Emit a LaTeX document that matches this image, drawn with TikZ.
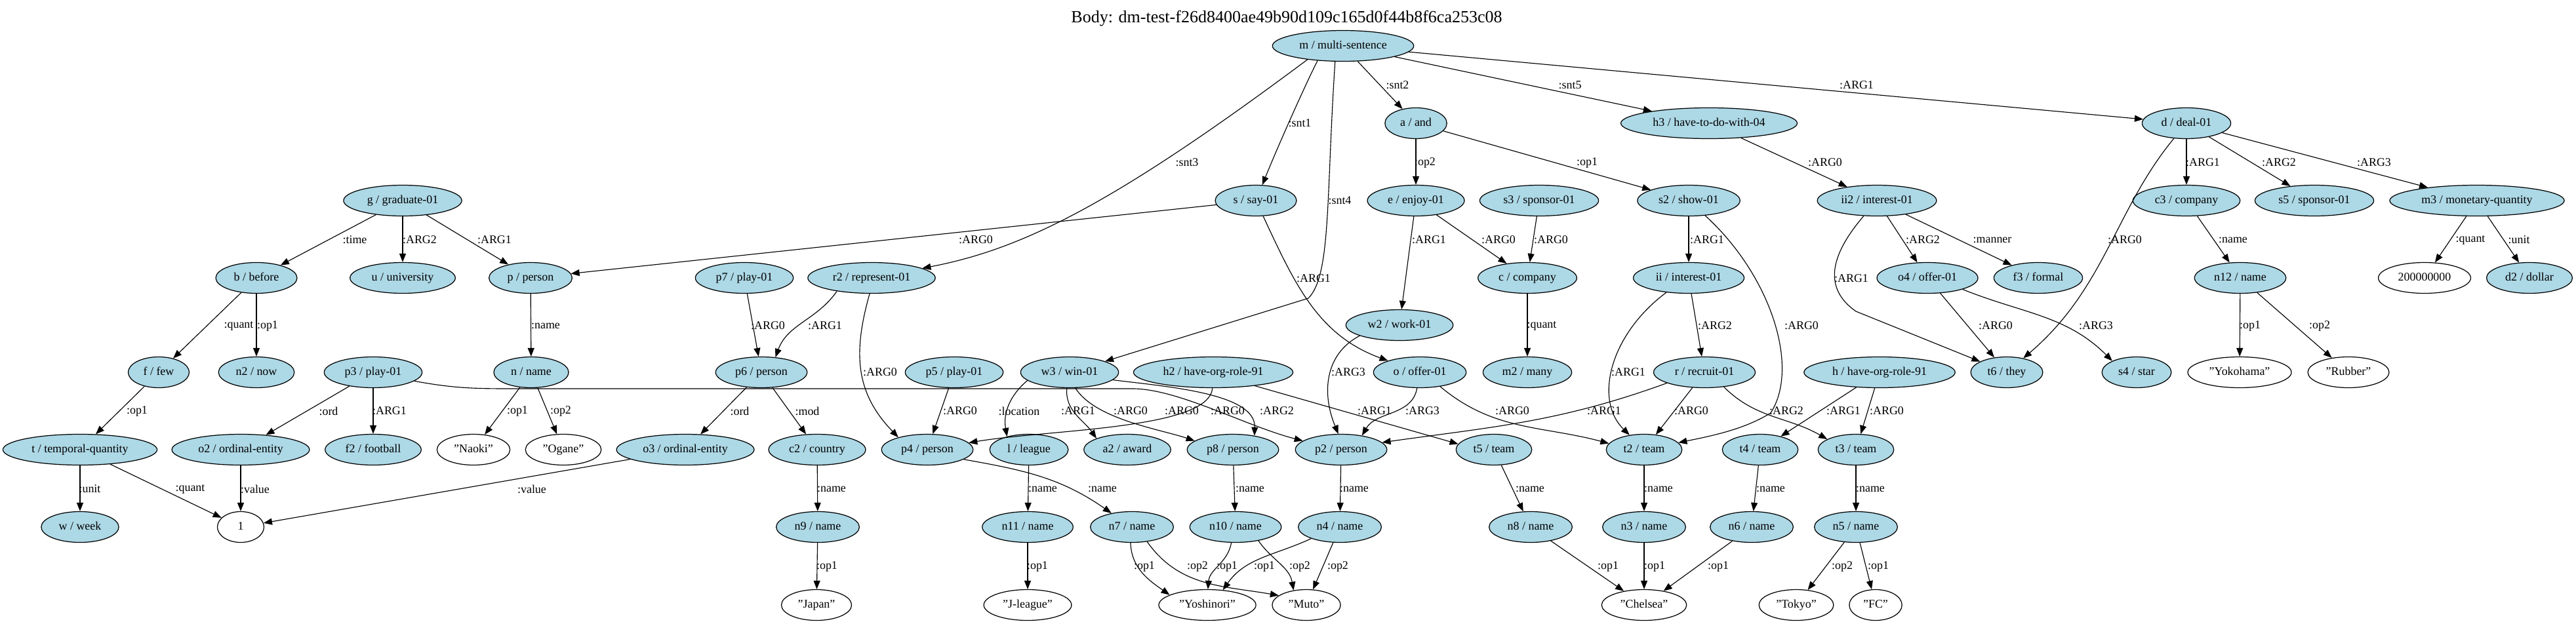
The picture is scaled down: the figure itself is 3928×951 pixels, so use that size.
\documentclass[tikz,border=0pt]{standalone}
\usepackage{fontspec}
\setmainfont{Liberation Serif}
\usetikzlibrary{shapes.geometric,arrows.meta}
\definecolor{lb}{HTML}{ADD8E6}
\newcommand\amrf{\fontsize{10.2}{12}\selectfont}
\newcommand\titlef{\fontsize{14.8}{17}\selectfont}
\begin{document}
\begin{tikzpicture}[x=0.02cm,y=-0.02cm,
  amr/.style={ellipse,draw,line width=0.7pt,fill=lb,minimum width=1.42cm,minimum height=0.94cm,
    inner xsep=5.4pt,inner ysep=1pt,font=\amrf,text height=7pt,text depth=2pt},
  lit/.style={amr,fill=white},
  edge/.style={-{Triangle[length=0.26cm,width=0.2cm]},line width=0.65pt},
  lbl/.style={font=\amrf,inner sep=0pt}]
\useasboundingbox (0,0) rectangle (3928,951);
\node[font=\titlef] (title) at (1962,28) {Body: dm-test-f26d8400ae49b90d109c165d0f44b8f6ca253c08};
% nodes
\node[amr] (m) at (2048,70) {m / multi-sentence};
\node[amr] (a) at (2159,188) {a / and};
\node[amr] (h3) at (2606,188) {h3 / have-to-do-with-04};
\node[amr] (d) at (3334,188) {d / deal-01};
\node[amr] (g) at (614,306) {g / graduate-01};
\node[amr] (s) at (1915,306) {s / say-01};
\node[amr] (e) at (2159,306) {e / enjoy-01};
\node[amr] (s3) at (2347,306) {s3 / sponsor-01};
\node[amr] (s2) at (2575,306) {s2 / show-01};
\node[amr] (ii2) at (2862,306) {ii2 / interest-01};
\node[amr] (c3) at (3334,306) {c3 / company};
\node[amr] (s5) at (3529,306) {s5 / sponsor-01};
\node[amr] (m3) at (3777,306) {m3 / monetary-quantity};
\node[amr] (b) at (391,424) {b / before};
\node[amr] (u) at (614,424) {u / university};
\node[amr] (p) at (809,424) {p / person};
\node[amr] (p7) at (1135,424) {p7 / play-01};
\node[amr] (r2) at (1329,424) {r2 / represent-01};
\node[amr] (c) at (2329,424) {c / company};
\node[amr] (ii) at (2575,424) {ii / interest-01};
\node[amr] (o4) at (2939,424) {o4 / offer-01};
\node[amr] (f3) at (3108,424) {f3 / formal};
\node[amr] (n12) at (3416,424) {n12 / name};
\node[lit] (q200) at (3697,424) {200000000};
\node[amr] (d2) at (3857,424) {d2 / dollar};
\node[amr] (w2) at (2134,496) {w2 / work-01};
\node[amr] (f) at (242,568) {f / few};
\node[amr] (n2) at (391,568) {n2 / now};
\node[amr] (p3) at (569,568) {p3 / play-01};
\node[amr] (n) at (810,568) {n / name};
\node[amr] (p6) at (1161,568) {p6 / person};
\node[amr] (p5) at (1455,568) {p5 / play-01};
\node[amr] (w3) at (1631,568) {w3 / win-01};
\node[amr] (h2) at (1850,568) {h2 / have-org-role-91};
\node[amr] (o) at (2165,568) {o / offer-01};
\node[amr] (m2) at (2329,568) {m2 / many};
\node[amr] (r) at (2599,568) {r / recruit-01};
\node[amr] (h) at (2866,568) {h / have-org-role-91};
\node[amr] (t6) at (3060,568) {t6 / they};
\node[amr] (s4) at (3258,568) {s4 / star};
\node[lit] (yok) at (3415,568) {"Yokohama"};
\node[lit] (rub) at (3581,568) {"Rubber"};
\node[amr] (t) at (122,686) {t / temporal-quantity};
\node[amr] (o2) at (367,686) {o2 / ordinal-entity};
\node[amr] (f2) at (569,686) {f2 / football};
\node[lit] (naoki) at (722,686) {"Naoki"};
\node[lit] (ogane) at (859,686) {"Ogane"};
\node[amr] (o3) at (1045,686) {o3 / ordinal-entity};
\node[amr] (c2) at (1246,686) {c2 / country};
\node[amr] (p4) at (1414,686) {p4 / person};
\node[amr] (l) at (1569,686) {l / league};
\node[amr] (a2) at (1719,686) {a2 / award};
\node[amr] (p8) at (1880,686) {p8 / person};
\node[amr] (p2) at (2045,686) {p2 / person};
\node[amr] (t5) at (2278,686) {t5 / team};
\node[amr] (t2) at (2507,686) {t2 / team};
\node[amr] (t4) at (2684,686) {t4 / team};
\node[amr] (t3) at (2830,686) {t3 / team};
\node[amr] (w) at (122,804) {w / week};
\node[lit] (one) at (367,804) {1};
\node[amr] (n9) at (1247,804) {n9 / name};
\node[amr] (n11) at (1567,804) {n11 / name};
\node[amr] (n7) at (1726,804) {n7 / name};
\node[amr] (n10) at (1884,804) {n10 / name};
\node[amr] (n4) at (2043,804) {n4 / name};
\node[amr] (n8) at (2334,804) {n8 / name};
\node[amr] (n3) at (2507,804) {n3 / name};
\node[amr] (n6) at (2671,804) {n6 / name};
\node[amr] (n5) at (2830,804) {n5 / name};
\node[lit] (japan) at (1245,923) {"Japan"};
\node[lit] (jl) at (1567,923) {"J-league"};
\node[lit] (yosh) at (1841,923) {"Yoshinori"};
\node[lit] (muto) at (1992,923) {"Muto"};
\node[lit] (chel) at (2507,923) {"Chelsea"};
\node[lit] (tokyo) at (2739,923) {"Tokyo"};
\node[lit] (fc) at (2860,923) {"FC"};
% edges
\draw[edge] (m.-150) .. controls (1990,130) and (1950,220) .. (s) node[lbl] at (1982,188) {:snt1};
\draw[edge] (m.-159) .. controls (1700,310) and (1560,380) .. (r2) node[lbl] at (1810,248) {:snt3};
\draw[edge] (m.-117) .. controls (2022,300) and (2030,420) .. (1995,455) -- (w3) node[lbl] at (2043,306) {:snt4};
\draw[edge] (m) -- (a) node[lbl] at (2131,130) {:snt2};
\draw[edge] (m) -- (h3) node[lbl] at (2394,130) {:snt5};
\draw[edge] (m) -- (d) node[lbl] at (2831,130) {:ARG1};
\draw[edge] (a) -- (e) node[lbl] at (2173,248) {:op2};
\draw[edge] (a) -- (s2) node[lbl] at (2420,248) {:op1};
\draw[edge] (h3) -- (ii2) node[lbl] at (2783,248) {:ARG0};
\draw[edge] (d) -- (c3) node[lbl] at (3359,248) {:ARG1};
\draw[edge] (d) -- (s5) node[lbl] at (3475,248) {:ARG2};
\draw[edge] (d) -- (m3) node[lbl] at (3620,248) {:ARG3};
\draw[edge] (d) .. controls (3225,320) and (3210,440) .. (t6) node[lbl] at (3240,366) {:ARG0};
\draw[edge] (g) -- (b) node[lbl] at (541,366) {:time};
\draw[edge] (g) -- (u) node[lbl] at (640,366) {:ARG2};
\draw[edge] (g) -- (p) node[lbl] at (754,366) {:ARG1};
\draw[edge] (s) -- (p) node[lbl] at (1488,366) {:ARG0};
\draw[edge] (s) to[out=-65,in=160] (o) node[lbl] at (2003,425) {:ARG1};
\draw[edge] (e) -- (w2) node[lbl] at (2179,366) {:ARG1};
\draw[edge] (e) -- (c) node[lbl] at (2285,366) {:ARG0};
\draw[edge] (s3) -- (c) node[lbl] at (2365,366) {:ARG0};
\draw[edge] (s2) -- (ii) node[lbl] at (2603,366) {:ARG1};
\draw[edge] (s2) .. controls (2700,420) and (2745,560) .. (2700,630) .. controls (2660,655) and (2610,665) .. (t2) node[lbl] at (2747,497) {:ARG0};
\draw[edge] (ii2) .. controls (2790,390) and (2780,440) .. (2830,475) -- (t6) node[lbl] at (2823,425) {:ARG1};
\draw[edge] (ii2) -- (o4) node[lbl] at (2932,366) {:ARG2};
\draw[edge] (ii2) -- (f3) node[lbl] at (3038,366) {:manner};
\draw[edge] (c3) -- (n12) node[lbl] at (3405,366) {:name};
\draw[edge] (m3) -- (q200) node[lbl] at (3767,366) {:quant};
\draw[edge] (m3) -- (d2) node[lbl] at (3841,366) {:unit};
\draw[edge] (b) -- (f) node[lbl] at (364,497) {:quant};
\draw[edge] (b) -- (n2) node[lbl] at (408,497) {:op1};
\draw[edge] (p) -- (n) node[lbl] at (832,497) {:name};
\draw[edge] (p7) -- (p6) node[lbl] at (1171,497) {:ARG0};
\draw[edge] (r2.-159) to[out=-125,in=70] (p6.47) node[lbl] at (1258,497) {:ARG1};
\draw[edge] (r2.-97) .. controls (1300,540) and (1305,600) .. (p4.157) node[lbl] at (1342,568) {:ARG0};
\draw[edge] (p6) -- (o3) node[lbl] at (1128,627) {:ord};
\draw[edge] (p6) -- (c2) node[lbl] at (1231,627) {:mod};
\draw[edge] (p5) -- (p4) node[lbl] at (1464,627) {:ARG0};
\draw[edge] (p3) -- (o2) node[lbl] at (501,627) {:ord};
\draw[edge] (p3) -- (f2) node[lbl] at (594,627) {:ARG1};
\draw[edge] (f) -- (t) node[lbl] at (209,627) {:op1};
\draw[edge] (n) -- (naoki) node[lbl] at (789,627) {:op1};
\draw[edge] (n) -- (ogane) node[lbl] at (855,627) {:op2};
\draw[edge] (t) -- (w) node[lbl] at (137,746) {:unit};
\draw[edge] (t) -- (one) node[lbl] at (290,746) {:quant};
\draw[edge] (o2) -- (one) node[lbl] at (389,746) {:value};
\draw[edge] (o3) -- (one) node[lbl] at (811,746) {:value};
\draw[edge] (c2) -- (n9) node[lbl] at (1268,746) {:name};
\draw[edge] (n9) -- (japan) node[lbl] at (1261,864) {:op1};
\draw[edge] (l) -- (n11) node[lbl] at (1590,746) {:name};
\draw[edge] (n11) -- (jl) node[lbl] at (1582,864) {:op1};
\draw[edge] (p4.-15) to[out=-10,in=145] (n7.146) node[lbl] at (1681,746) {:name};
\draw[edge] (p8) -- (n10) node[lbl] at (1906,746) {:name};
\draw[edge] (p2) -- (n4) node[lbl] at (2065,746) {:name};
\draw[edge] (n7.-95) to[out=-88,in=145] (yosh.165) node[lbl] at (1745,864) {:op1};
\draw[edge] (n7.-44) to[out=-55,in=170] (muto.161) node[lbl] at (1826,864) {:op2};
\draw[edge] (n10.-105) to[out=-100,in=85] (yosh.88) node[lbl] at (1871,864) {:op1};
\draw[edge] (n4.-158) to[out=-155,in=55] (yosh.44) node[lbl] at (1928,864) {:op1};
\draw[edge] (n10.-31) to[out=-55,in=100] (muto.131) node[lbl] at (1982,864) {:op2};
\draw[edge] (n4) -- (muto) node[lbl] at (2040,864) {:op2};
\draw[edge] (t5) -- (n8) node[lbl] at (2333,746) {:name};
\draw[edge] (t2) -- (n3) node[lbl] at (2529,746) {:name};
\draw[edge] (t4) -- (n6) node[lbl] at (2700,746) {:name};
\draw[edge] (t3) -- (n5) node[lbl] at (2852,746) {:name};
\draw[edge] (n8) -- (chel) node[lbl] at (2452,864) {:op1};
\draw[edge] (n3) -- (chel) node[lbl] at (2523,864) {:op1};
\draw[edge] (n6) -- (chel) node[lbl] at (2620,864) {:op1};
\draw[edge] (n5) -- (tokyo) node[lbl] at (2809,864) {:op2};
\draw[edge] (n5) -- (fc) node[lbl] at (2864,864) {:op1};
\draw[edge] (c) -- (m2) node[lbl] at (2351,497) {:quant};
\draw[edge] (ii) -- (r) node[lbl] at (2615,497) {:ARG2};
\draw[edge] (ii.-147) .. controls (2455,510) and (2430,610) .. (t2.135) node[lbl] at (2483,568) {:ARG1};
\draw[edge] (w2.-165) .. controls (2020,540) and (2015,600) .. (p2.100) node[lbl] at (2056,568) {:ARG3};
\draw[edge] (o.-100) to[out=-100,in=60] (p2.34) node[lbl] at (2169,627) {:ARG3};
\draw[edge] (o.-35) to[out=-40,in=165] (t2.170) node[lbl] at (2306,627) {:ARG0};
\draw[edge] (r.-164) to[out=-160,in=8] (p2.10) node[lbl] at (2446,627) {:ARG1};
\draw[edge] (r) -- (t2) node[lbl] at (2579,627) {:ARG0};
\draw[edge] (r.-37) to[out=-45,in=150] (t3.160) node[lbl] at (2724,627) {:ARG2};
\draw[edge] (h) -- (t4) node[lbl] at (2811,627) {:ARG1};
\draw[edge] (h) -- (t3) node[lbl] at (2877,627) {:ARG0};
\draw[edge] (o4) -- (t6) node[lbl] at (3043,497) {:ARG0};
\draw[edge] (o4.-18) to[out=-22,in=135] (s4.155) node[lbl] at (3196,497) {:ARG3};
\draw[edge] (n12) -- (yok) node[lbl] at (3431,497) {:op1};
\draw[edge] (n12) -- (rub) node[lbl] at (3537,497) {:op2};
\draw[edge] (w3.-169) to[out=-140,in=100] (l.149) node[lbl] at (1554,627) {:location};
\draw[edge] (w3.-100) to[out=-95,in=125] (a2.160) node[lbl] at (1644,627) {:ARG1};
\draw[edge] (w3.-70) .. controls (1670,640) and (1770,655) .. (p8.167) node[lbl] at (1724,627) {:ARG0};
\draw[edge] (w3.-10) .. controls (1780,590) and (1915,600) .. (p8.33) node[lbl] at (1947,627) {:ARG2};
\draw[edge] (p3.-12) .. controls (690,592) and (720,593) .. (780,593) -- (1730,593) .. controls (1800,595) and (1900,650) .. (p2.167) node[lbl] at (1802,627) {:ARG0};
\draw[edge] (h2) .. controls (1845,655) and (1600,655) .. (p4) node[lbl] at (1872,627) {:ARG0};
\draw[edge] (h2.-18) -- (t5.171) node[lbl] at (2096,627) {:ARG1};
\end{tikzpicture}
\end{document}
